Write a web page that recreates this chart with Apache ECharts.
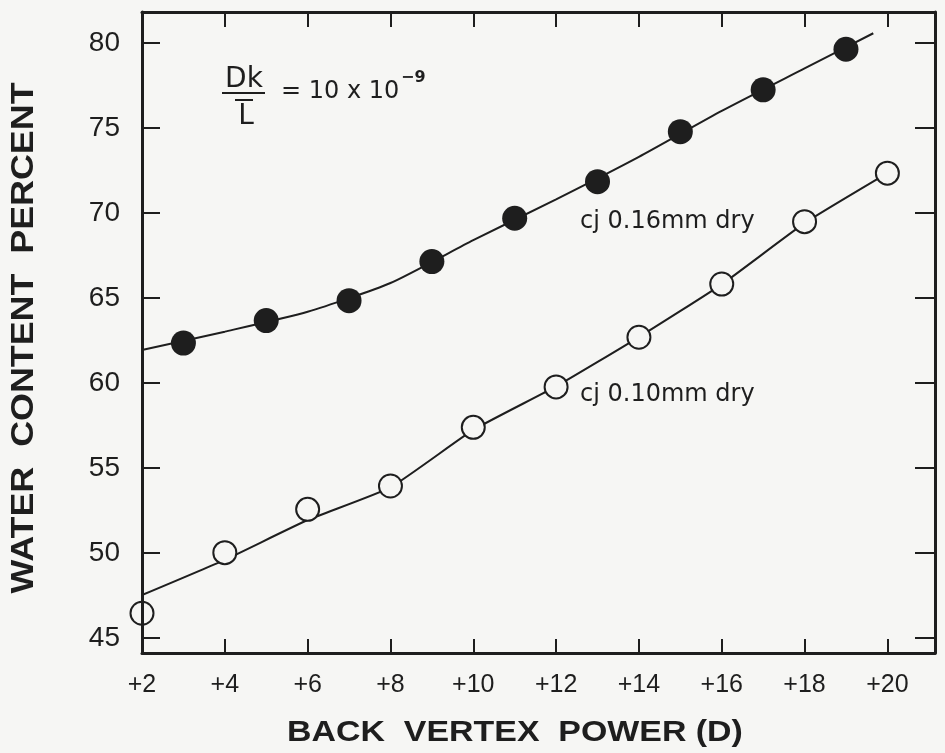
<!DOCTYPE html>
<html>
<head>
<meta charset="utf-8">
<script src="https://cdn.jsdelivr.net/npm/echarts@6/dist/echarts.min.js"></script>
<style>
  html, body { margin: 0; padding: 0; background: #f6f6f4; }
  #chart { width: 945px; height: 753px; }
</style>
</head>
<body>
<div id="chart"></div>
<script>
// Tick positions
const xTicks = [2, 4, 6, 8, 10, 12, 14, 16, 18, 20];
const yTicks = [45, 50, 55, 60, 65, 70, 75, 80];

// cj 0.16 mm dry (filled circles)
const thickX = [3, 5, 7, 9, 11, 13, 15, 17, 19];
const thickY = [62.35, 63.67, 64.84, 67.14, 69.69, 71.84, 74.78, 77.24, 79.63];
// fitted curve through the 0.16 mm points
const thickFitX = [2, 4, 6, 8, 10, 12, 14, 16, 18, 19.66];
const thickFitY = [61.94, 63.02, 64.19, 65.88, 68.4, 70.8, 73.3, 76.0, 78.5, 80.57];

// cj 0.10 mm dry (open circles)
const thinX = [2, 4, 6, 8, 10, 12, 14, 16, 18, 20];
const thinY = [46.46, 50.02, 52.57, 53.94, 57.39, 59.77, 62.69, 65.82, 69.49, 72.34];
// fitted curve through the 0.10 mm points
const thinFitX = [2, 4, 6, 8, 10, 12, 14, 16, 18, 20];
const thinFitY = [47.53, 49.6, 51.94, 53.86, 57.24, 59.8, 62.7, 65.8, 69.4, 72.34];

const ink = '#1e1e1e';
const bg = '#f6f6f4';
const zip = (xs, ys) => xs.map((x, i) => [x, ys[i]]);

const chart = echarts.init(document.getElementById('chart'), null, { renderer: 'canvas' });

const xBase = {
  type: 'value', min: 2, max: 21.15, z: 5,
  axisLine: { show: true, onZero: false, lineStyle: { color: ink, width: 3 } },
  splitLine: { show: false }
};
const yBase = {
  type: 'value', min: 44.12, max: 81.82, z: 5,
  axisLine: { show: true, onZero: false, lineStyle: { color: ink, width: 3 } },
  splitLine: { show: false }
};

chart.setOption({
  backgroundColor: bg,
  animation: false,
  grid: { left: 142, right: 10, top: 12, bottom: 100, containLabel: false },
  xAxis: [
    Object.assign({}, xBase, {
      position: 'bottom',
      axisTick: { show: true, inside: true, length: 14, customValues: xTicks, lineStyle: { color: ink, width: 2 } },
      axisLabel: {
        customValues: xTicks, formatter: v => '+' + v, margin: 20,
        color: ink, fontSize: 25, fontFamily: 'Liberation Sans'
      }
    }),
    Object.assign({}, xBase, {
      position: 'top',
      axisTick: { show: true, inside: true, length: 15, customValues: xTicks, lineStyle: { color: ink, width: 2 } },
      axisLabel: { show: false }
    })
  ],
  yAxis: [
    Object.assign({}, yBase, {
      position: 'left',
      axisTick: { show: true, inside: true, length: 18, customValues: yTicks, lineStyle: { color: ink, width: 2 } },
      axisLabel: {
        customValues: yTicks, margin: 22,
        color: ink, fontSize: 28, fontFamily: 'Liberation Sans'
      }
    }),
    Object.assign({}, yBase, {
      position: 'right',
      axisTick: { show: true, inside: true, length: 20, customValues: yTicks, lineStyle: { color: ink, width: 2 } },
      axisLabel: { show: false }
    })
  ],
  series: [
    {
      type: 'line', xAxisIndex: 0, yAxisIndex: 0, data: zip(thickFitX, thickFitY),
      smooth: 0.2, symbol: 'none', lineStyle: { color: ink, width: 2 }, z: 2
    },
    {
      type: 'line', xAxisIndex: 0, yAxisIndex: 0, data: zip(thinFitX, thinFitY),
      smooth: 0.15, symbol: 'none', lineStyle: { color: ink, width: 2 }, z: 2
    },
    {
      type: 'scatter', xAxisIndex: 0, yAxisIndex: 0, data: zip(thickX, thickY),
      symbol: 'circle', symbolSize: 25, itemStyle: { color: ink, opacity: 1 }, z: 3
    },
    {
      type: 'scatter', xAxisIndex: 0, yAxisIndex: 0, data: zip(thinX, thinY),
      symbol: 'circle', symbolSize: 23, clip: false,
      itemStyle: { color: bg, borderColor: ink, borderWidth: 2, opacity: 1 }, z: 3
    }
  ],
  graphic: [
    // axis titles
    {
      type: 'text', x: 515, y: 733, scaleX: 1.13,
      style: { text: 'BACK  VERTEX  POWER (D)', fill: ink, font: 'bold 30px "Liberation Sans"', align: 'center', verticalAlign: 'middle' }
    },
    {
      type: 'text', x: 24, y: 338, rotation: Math.PI / 2, scaleX: 1.12,
      style: { text: 'WATER  CONTENT  PERCENT', fill: ink, font: 'bold 32px "Liberation Sans"', align: 'center', verticalAlign: 'middle' }
    },
    // Dk / L = 10 x 10^-9
    {
      type: 'text', x: 244, y: 80,
      style: { text: 'Dk', fill: ink, font: '28px "DejaVu Sans"', align: 'center', verticalAlign: 'middle' }
    },
    { type: 'line', shape: { x1: 222, y1: 93, x2: 265, y2: 93 }, style: { stroke: ink, lineWidth: 2 } },
    { type: 'line', shape: { x1: 235, y1: 100, x2: 253, y2: 100 }, style: { stroke: ink, lineWidth: 2 } },
    {
      type: 'text', x: 246, y: 117,
      style: { text: 'L', fill: ink, font: '28px "DejaVu Sans"', align: 'center', verticalAlign: 'middle' }
    },
    {
      type: 'text', x: 281, y: 92,
      style: { text: '= 10 x 10', fill: ink, font: '24px "DejaVu Sans"', align: 'left', verticalAlign: 'middle' }
    },
    {
      type: 'text', x: 401, y: 78,
      style: { text: '\u22129', fill: ink, font: 'bold 16px "DejaVu Sans"', align: 'left', verticalAlign: 'middle' }
    },
    // curve labels
    {
      type: 'text', x: 580, y: 222,
      style: { text: 'cj 0.16mm dry', fill: ink, font: '24px "DejaVu Sans"', align: 'left', verticalAlign: 'middle' }
    },
    {
      type: 'text', x: 580, y: 395,
      style: { text: 'cj 0.10mm dry', fill: ink, font: '24px "DejaVu Sans"', align: 'left', verticalAlign: 'middle' }
    }
  ]
});
</script>
</body>
</html>
